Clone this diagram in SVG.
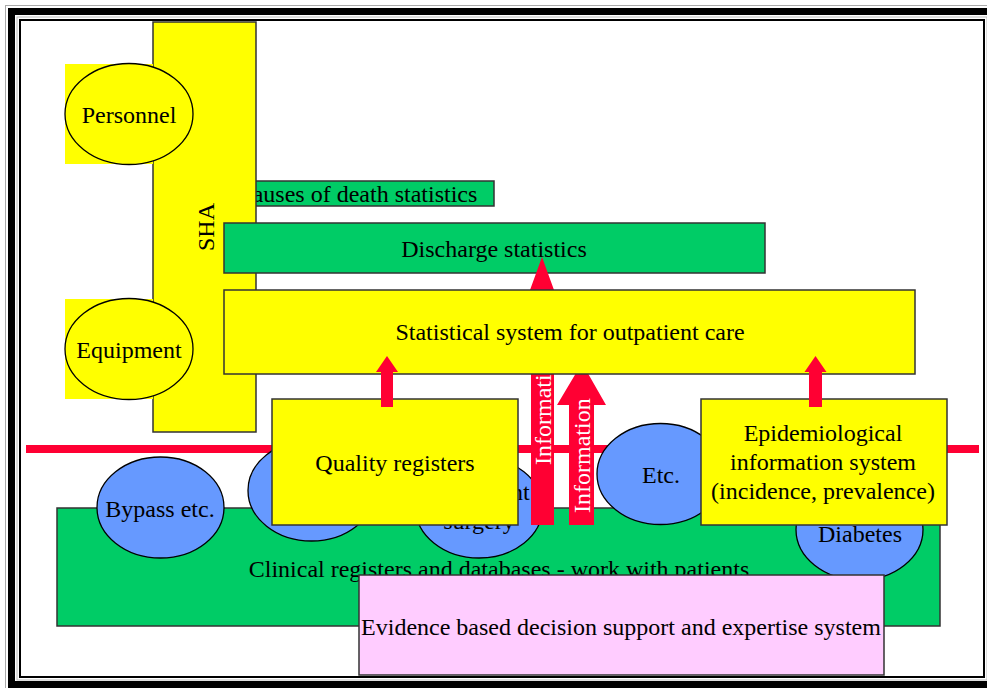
<svg xmlns="http://www.w3.org/2000/svg" width="987" height="688" viewBox="0 0 987 688">
  <style>
    text { font-family: "Liberation Serif", "Times New Roman", serif; font-size: 24px; fill: #000; }
    .mid { text-anchor: middle; }
    .box { stroke: #333; stroke-width: 1.5; }
    .yellow { fill: #FFFF00; }
    .green { fill: #00CC66; }
    .pink { fill: #FFCCFF; }
    .oval { fill: #6699FF; stroke: #000; stroke-width: 1.3; }
    .yoval { fill: #FFFF00; stroke: #000; stroke-width: 1.3; }
    .arrow { fill: #FF0033; }
    .white { fill: #fff; }
  </style>

  <rect x="0" y="0" width="987" height="688" fill="#fff"/>

  <!-- page frame -->
  <g id="frame" fill="none">
    <rect x="5.5" y="5.5" width="1000" height="700" stroke="#aaa" stroke-width="1"/>
    <rect x="11.5" y="11.5" width="990" height="673" stroke="#000" stroke-width="7"/>
    <rect x="17" y="17" width="970" height="663" stroke="#bbb" stroke-width="1"/>
    <rect x="20" y="20" width="964" height="657" stroke="#000" stroke-width="2"/>
  </g>

  <g id="causes">
    <rect class="box green" x="200" y="181" width="294" height="25"/>
    <text class="mid" x="357" y="202">Causes of death statistics</text>
  </g>

  <g id="sha">
    <rect class="box yellow" x="153" y="22" width="103" height="410"/>
    <text class="mid" transform="translate(214,227) rotate(-90)">SHA</text>
  </g>

  <g id="personnel">
    <rect class="yellow" x="65" y="64" width="88" height="100"/>
    <ellipse class="yoval" cx="129" cy="114" rx="64" ry="50.5"/>
    <text class="mid" x="129" y="123">Personnel</text>
  </g>

  <g id="equipment">
    <rect class="yellow" x="65" y="299" width="88" height="100"/>
    <ellipse class="yoval" cx="129" cy="349" rx="64" ry="50.5"/>
    <text class="mid" x="129" y="358">Equipment</text>
  </g>

  <g id="discharge">
    <rect class="box green" x="224" y="223" width="541" height="50"/>
    <text class="mid" x="494" y="257">Discharge statistics</text>
  </g>

  <g id="divider">
    <rect class="arrow" x="26" y="445" width="953" height="8"/>
  </g>

  <g id="clinical">
    <rect class="box green" x="57" y="508" width="883" height="118"/>
    <text class="mid" x="499" y="577">Clinical registers and databases - work with patients</text>
  </g>

  <g id="bypass">
    <ellipse class="oval" cx="160.5" cy="507.5" rx="63.5" ry="50.5"/>
    <text class="mid" x="160" y="517">Bypass etc.</text>
  </g>
  <g id="register-oval">
    <ellipse class="oval" cx="311.5" cy="490.5" rx="63.5" ry="50.5"/>
  </g>
  <g id="outpatient-surgery">
    <ellipse class="oval" cx="479" cy="507.5" rx="63.5" ry="50.5"/>
    <text class="mid" x="479" y="500">Outpatient</text>
    <text class="mid" x="479" y="529">surgery</text>
  </g>
  <g id="etc">
    <ellipse class="oval" cx="660.5" cy="474" rx="63.5" ry="50.5"/>
    <text class="mid" x="661" y="483">Etc.</text>
  </g>
  <g id="diabetes">
    <ellipse class="oval" cx="859.5" cy="529.5" rx="63.5" ry="50.5"/>
    <text class="mid" x="860" y="542">Diabetes</text>
  </g>

  <!-- information flows -->
  <g id="connectors">
    <g id="info-long">
      <polygon class="arrow" points="542,257 554,290 554,525 531,525 531,290 530,290"/>
      <text class="white" transform="translate(551,465) rotate(-90)">Information</text>
    </g>
    <g id="info-short">
      <polygon class="arrow" points="582,363 606,405 594,405 594,525 569,525 569,405 557,405"/>
      <text class="white" transform="translate(590,513) rotate(-90)">Information</text>
    </g>
  </g>

  <g id="outpatient-care">
    <rect class="box yellow" x="224" y="290" width="691" height="84"/>
    <text class="mid" x="570" y="340">Statistical system for outpatient care</text>
  </g>

  <g id="quality">
    <rect class="box yellow" x="272" y="399" width="246" height="126"/>
    <text class="mid" x="395" y="471">Quality registers</text>
  </g>

  <g id="epidemiological">
    <rect class="box yellow" x="701" y="399" width="246" height="126"/>
    <text class="mid" x="823" y="441">Epidemiological</text>
    <text class="mid" x="823" y="470">information system</text>
    <text class="mid" x="823" y="499">(incidence, prevalence)</text>
  </g>

  <g id="connectors-small">
    <polygon class="arrow" points="387,356 398,372 393,372 393,407 381,407 381,372 376,372"/>
    <polygon class="arrow" points="815.5,356 826.5,372 822,372 822,407 809,407 809,372 804.5,372"/>
  </g>

  <g id="evidence">
    <rect class="box pink" x="359" y="575" width="525" height="100"/>
    <text class="mid" x="621" y="635">Evidence based decision support and expertise system</text>
  </g>
</svg>
